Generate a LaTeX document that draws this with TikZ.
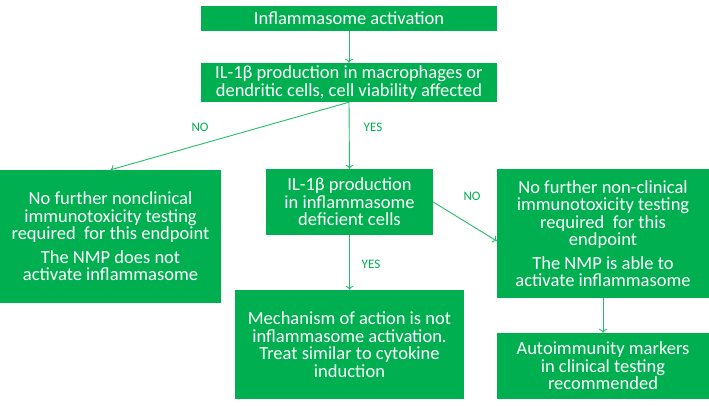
\documentclass[tikz,border=0pt]{standalone}
\usepackage{fontspec}
\setmainfont{Carlito}
\usetikzlibrary{arrows.meta}
\definecolor{boxgreen}{RGB}{0,176,80}
\begin{document}
\begin{tikzpicture}[x=1pt,y=-1pt,
    box/.style={fill=boxgreen,text=white,inner sep=0pt,align=center,
      font=\fontsize{18.5}{17.5}\selectfont},
    lbl/.style={text=boxgreen,font=\fontsize{13}{13}\selectfont},
    arr/.style={draw=boxgreen!85,line width=0.9pt,-{To[length=4pt,width=8pt]}}]
  \useasboundingbox (0,0) rectangle (709,405);
  % boxes
  \node[box,minimum width=296pt,minimum height=25pt] (act) at (349,18.5)
    {Inflammasome activation};
  \node[box,minimum width=296pt,minimum height=39pt] (il) at (349,82.5)
    {IL-1β production in macrophages or\\dendritic cells, cell viability affected};
  \node[box,minimum width=221pt,minimum height=133pt] (nofurther) at (110.5,236.5)
    {No further nonclinical\\immunotoxicity testing\\required~ for this endpoint\\[6pt]
     The NMP does not\\activate inflammasome};
  \node[box,minimum width=167pt,minimum height=66pt] (deficient) at (349.5,202)
    {IL-1β production\\in inflammasome\\deficient cells};
  \node[box,minimum width=212pt,minimum height=129pt] (able) at (603,233.5)
    {No further non-clinical\\immunotoxicity testing\\required~ for this\\endpoint\\[6pt]
     The NMP is able to\\activate inflammasome};
  \node[box,minimum width=229pt,minimum height=109pt] (mech) at (349.5,344.5)
    {Mechanism of action is not\\inflammasome activation.\\Treat similar to cytokine\\induction};
  \node[box,minimum width=212pt,minimum height=66pt] (markers) at (603,366)
    {Autoimmunity markers\\in clinical testing\\recommended};
  % connectors
  \draw[arr] (act) -- (il);
  \draw[arr] (il.south) -- (nofurther.north);
  \draw[arr] (il.south) -- (deficient.north);
  \draw[arr] (deficient.east) -- ([yshift=-7.5pt]able.west);
  \draw[arr] (deficient) -- (mech);
  \draw[arr] (able) -- (markers);
  % labels
  \node[lbl] (no1) at (200,127) {NO};
  \node[lbl] (yes1) at (373,127) {YES};
  \node[lbl] (no2) at (472,196) {NO};
  \node[lbl] (yes2) at (371,264) {YES};
\end{tikzpicture}
\end{document}
